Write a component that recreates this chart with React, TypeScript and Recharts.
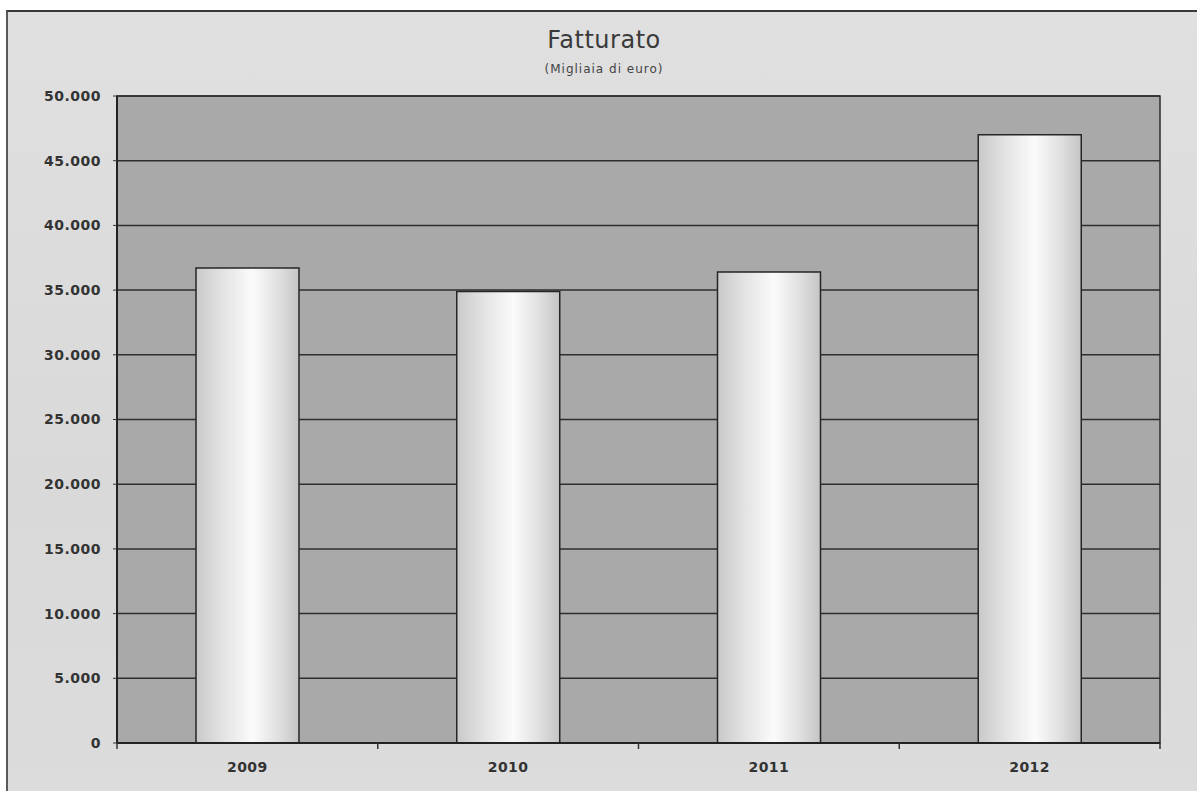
import React from "react";
import {
  BarChart,
  Bar,
  XAxis,
  YAxis,
  CartesianGrid,
  ReferenceArea,
} from "recharts";

const anni = ["2009", "2010", "2011", "2012"];
const fatturato = [36700, 34900, 36400, 47000];
const tickValori = [0, 5000, 10000, 15000, 20000, 25000, 30000, 35000, 40000, 45000, 50000];

const dati = anni.map((anno, i) => ({ anno, valore: fatturato[i] }));

// formato italiano: 50.000
const formattaPunti = (v: number) =>
  String(v).replace(/\B(?=(\d{3})+(?!\d))/g, ".");

const FONT = "'DejaVu Sans', Verdana, sans-serif";
const MARGINE_ETICHETTA = 19;
const TACCA = 6;

// etichetta dell'anno + tacche sui bordi della categoria
const TickAnno = (props: any) => {
  const { x, y, payload, index, visibleTicksCount } = props;
  const mezzo = payload.offset ?? 0;
  const yAsse = y - MARGINE_ETICHETTA;
  const ultimo = index === visibleTicksCount - 1;
  return (
    <g>
      <line x1={x - mezzo} x2={x - mezzo} y1={yAsse} y2={yAsse + TACCA} stroke="#333" strokeWidth={1.5} />
      {ultimo && (
        <line x1={x + mezzo} x2={x + mezzo} y1={yAsse} y2={yAsse + TACCA} stroke="#333" strokeWidth={1.5} />
      )}
      <text
        x={x}
        y={y}
        dy="0.71em"
        textAnchor="middle"
        fill="#333"
        fontSize={14}
        fontFamily={FONT}
        fontWeight={600}
        letterSpacing={0.5}
      >
        {payload.value}
      </text>
    </g>
  );
};

export default function App() {
  return (
    <div
      style={{
        position: "absolute",
        left: 0,
        top: 0,
        width: 1197,
        height: 791,
        background: "#ffffff",
        overflow: "hidden",
      }}
    >
      {/* cornice grigia */}
      <div
        style={{
          position: "absolute",
          left: 6,
          top: 10,
          width: 1197,
          height: 791,
          background: "linear-gradient(180deg, #e0e0e0 0%, #d9d9d9 60%, #dcdcdc 100%)",
          borderTop: "2px solid #3a3a3a",
          borderLeft: "2px solid #5a5a5a",
          boxSizing: "border-box",
        }}
      />
      <div
        style={{
          position: "absolute",
          left: 0,
          top: 26,
          width: 1208,
          textAlign: "center",
          fontFamily: FONT,
          fontSize: 24,
          color: "#3a3a3a",
          letterSpacing: 0.5,
        }}
      >
        Fatturato
      </div>
      <div
        style={{
          position: "absolute",
          left: 0,
          top: 62,
          width: 1208,
          textAlign: "center",
          fontFamily: FONT,
          fontSize: 12,
          color: "#444",
          letterSpacing: 1,
        }}
      >
        (Migliaia di euro)
      </div>
      <div style={{ position: "absolute", left: 0, top: 0 }}>
        <BarChart
          width={1197}
          height={791}
          data={dati}
          margin={{ top: 96, right: 37, bottom: 0, left: 0 }}
        >
          <defs>
            <linearGradient id="gradBarra" x1="0" y1="0" x2="1" y2="0">
              <stop offset="0%" stopColor="#c9c9c9" />
              <stop offset="25%" stopColor="#e2e2e2" />
              <stop offset="55%" stopColor="#fbfbfb" />
              <stop offset="80%" stopColor="#e0e0e0" />
              <stop offset="100%" stopColor="#c4c4c4" />
            </linearGradient>
          </defs>
          <CartesianGrid
            vertical={false}
            stroke="#2e2e2e"
            strokeWidth={1.5}
            fill="#a9a9a9"
            fillOpacity={1}
          />
          <ReferenceArea
            y1={0}
            y2={50000}
            fill="none"
            stroke="#2e2e2e"
            strokeWidth={1.5}
            ifOverflow="visible"
          />
          <XAxis
            dataKey="anno"
            height={48}
            tickLine={false}
            tickSize={0}
            axisLine={{ stroke: "#222", strokeWidth: 2 }}
            tickMargin={MARGINE_ETICHETTA}
            tick={<TickAnno />}
            interval={0}
          />
          <YAxis
            width={117}
            domain={[0, 50000]}
            ticks={tickValori}
            interval={0}
            tickFormatter={formattaPunti}
            tickSize={4}
            tickMargin={12}
            axisLine={{ stroke: "#222", strokeWidth: 2 }}
            tickLine={{ stroke: "#333" }}
            tick={{
              fill: "#333",
              fontSize: 14,
              fontFamily: FONT,
              fontWeight: 600,
              letterSpacing: 0.5,
            }}
          />
          <Bar
            dataKey="valore"
            barSize={103}
            fill="url(#gradBarra)"
            stroke="#262626"
            strokeWidth={1.5}
            isAnimationActive={false}
          />
        </BarChart>
      </div>
    </div>
  );
}
